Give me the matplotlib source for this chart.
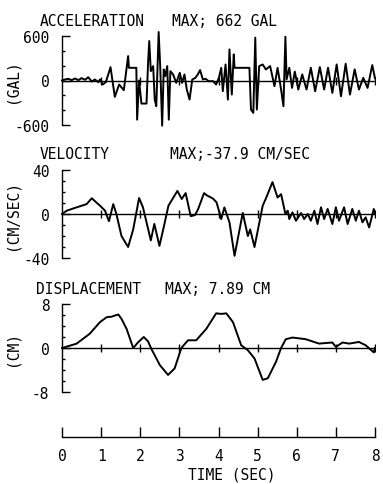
"""
Acceleration, velocity and displacement time histories (old plotter style).
"""

import numpy as np
import matplotlib.pyplot as plt

# acceleration (GAL)
acc_t = [0.00, 0.08, 0.16, 0.25, 0.33, 0.42, 0.50, 0.59, 0.67, 0.76, 0.84, 0.93,
         0.97, 1.04, 1.12, 1.24, 1.35, 1.46, 1.58, 1.69, 1.71, 1.90, 1.92, 1.97,
         2.03, 2.16, 2.20, 2.23, 2.27, 2.33, 2.37, 2.41, 2.47, 2.51, 2.56, 2.60,
         2.64, 2.69, 2.73, 2.77, 2.84, 2.92, 3.01, 3.07, 3.13, 3.19, 3.26, 3.33,
         3.41, 3.47, 3.53, 3.60, 3.67, 3.75, 3.86, 3.94, 4.01, 4.07, 4.11, 4.18,
         4.24, 4.28, 4.34, 4.39, 4.41, 4.79, 4.83, 4.89, 4.94, 4.98, 5.04, 5.13,
         5.21, 5.32, 5.43, 5.51, 5.60, 5.66, 5.71, 5.74, 5.81, 5.88, 5.95, 6.04,
         6.14, 6.25, 6.36, 6.47, 6.59, 6.70, 6.80, 6.91, 7.02, 7.13, 7.25, 7.36,
         7.48, 7.59, 7.70, 7.81, 7.93, 8.00]
acc_v = [0, 14, 23, 5, 27, 5, 32, 9, 45, -14, 14, -23,
         14, -54, -23, 180, -221, -54, -131, 329, 171, 171, -528, 0,
         -311, -311, 239, 532, 126, 194, -257, -347, 654, 194, -609, 149,
         59, 194, -528, 126, 81, -32, 104, -32, 81, -122, -257, 14,
         36, 81, 140, 14, 23, -9, -9, -54, 36, 171, -144, 216,
         -257, 419, -189, 352, 171, 171, -392, -437, 577, -392, 194, 216,
         149, 194, -77, 171, -122, -347, 591, 14, 171, -100, 120, -122,
         82, -122, 172, -145, 181, -122, 172, -168, 217, -213, 226, -190,
         150, -122, 36, -100, 208, 30]

# velocity (CM/SEC)
vel_t = [0.00, 0.12, 0.37, 0.63, 0.76, 0.97, 1.10, 1.20, 1.31, 1.39, 1.52, 1.69,
         1.82, 1.97, 2.07, 2.27, 2.36, 2.49, 2.60, 2.72, 2.95, 3.06, 3.16, 3.29,
         3.40, 3.48, 3.63, 3.70, 3.86, 3.95, 4.07, 4.15, 4.28, 4.41, 4.62, 4.75,
         4.81, 4.92, 5.13, 5.21, 5.38, 5.51, 5.60, 5.71, 5.77, 5.81, 5.89, 5.98,
         6.11, 6.19, 6.28, 6.36, 6.45, 6.53, 6.62, 6.70, 6.79, 6.91, 7.00, 7.08,
         7.21, 7.30, 7.42, 7.51, 7.59, 7.68, 7.76, 7.85, 7.97, 8.00]
vel_v = [0, 3, 6, 9, 14.3, 7.6, 3, -6.6, 9, 0, -20, -30,
         -14, 14.5, 6, -24, -9, -29, -12, 7.5, 21, 13.6, 19, -2,
         -1, 4.5, 19, 17, 14, 10.6, -4.6, 6, -7.6, -38, 1, -20,
         -14, -30, 7.6, 14, 29, 15, 18, 0, 3, -4.6, 1.5, -6.1,
         0.9, -4.6, 0, -6.1, 3, -9.1, 6.1, -4.6, 4.6, -9.1, 6.1, -6.1,
         6.1, -9.1, 4.6, -6.1, 3, -7.6, -3, -12.2, 4.6, 0]

# displacement (CM)
dis_t = [0.00, 0.37, 0.71, 0.97, 1.14, 1.27, 1.35, 1.44, 1.52, 1.65, 1.82, 1.94,
         2.09, 2.20, 2.28, 2.50, 2.71, 2.88, 3.05, 3.22, 3.43, 3.69, 3.94, 4.07,
         4.20, 4.37, 4.58, 4.75, 4.92, 5.13, 5.26, 5.47, 5.60, 5.72, 5.89, 6.23,
         6.57, 6.91, 7.00, 7.17, 7.34, 7.59, 7.76, 7.97, 8.00]
dis_v = [0, 0.78, 2.6, 4.7, 5.6, 5.7, 5.9, 6.1, 5.3, 3.5, 0, 1.0,
         2.0, 1.2, -0.1, -3.1, -4.9, -3.7, 0, 1.4, 1.4, 3.5, 6.3, 6.2,
         6.3, 4.7, 0.5, -0.4, -1.9, -5.8, -5.5, -2.5, 0, 1.6, 1.9, 1.6,
         0.8, 1.0, 0.2, 1.0, 0.8, 1.1, 0.5, -0.8, 0]

seconds = list(range(0, 9))

panels = [
    (acc_t, acc_v, 600, "ACCELERATION", "MAX; 662 GAL", "(GAL)", 37, 126, 21, 40, 172),
    (vel_t, vel_v, 40, "VELOCITY", "MAX;-37.9 CM/SEC", "(CM/SEC)", 171, 259, 155, 40, 170),
    (dis_t, dis_v, 8, "DISPLACEMENT", "MAX; 7.89 CM", "(CM)", 305, 393, 290, 36, 165),
]

W, H = 383, 485
FONT = "DejaVu Sans Mono"
FS = 10.5

fig = plt.figure(figsize=(W / 100, H / 100), dpi=100)

x0, x1 = 62, 375
for t, v, lim, name, maxtxt, unit, ytop, ybot, ytitle, xname, xmax in panels:
    ax = fig.add_axes([x0 / W, 1 - ybot / H, (x1 - x0) / W, (ybot - ytop) / H])
    ax.set_xlim(0, 8)
    ax.set_ylim(-lim, lim)
    for s in ["top", "right", "bottom"]:
        ax.spines[s].set_visible(False)
    ax.spines["left"].set_linewidth(1.0)
    ax.set_xticks([])
    ax.set_yticks([-lim, 0, lim])
    ax.set_yticklabels([str(-lim), "0", str(lim)], fontfamily=FONT, fontsize=FS)
    ax.set_yticks(np.linspace(-lim, lim, 9 if lim != 600 else 7), minor=True)
    ax.tick_params(axis="y", which="major", direction="in", length=6, width=1.0, pad=9)
    ax.tick_params(axis="y", which="minor", direction="in", length=2.5, width=1.0)
    ax.patch.set_visible(False)

    # zero line with second marks
    ax.axhline(0, color="black", lw=1.0)
    ax.plot(seconds[1:], [0] * 8, linestyle="none", marker="|", markersize=6,
            markeredgewidth=1.0, color="black")
    ax.plot(t, v, color="black", lw=1.4, clip_on=False)

    fig.text(xname / W, 1 - ytitle / H, name, fontfamily=FONT, fontsize=FS,
             ha="left", va="center")
    fig.text(xmax / W, 1 - ytitle / H, maxtxt, fontfamily=FONT, fontsize=FS,
             ha="left", va="center")
    fig.text(12 / W, 1 - (ytop + ybot) / 2 / H, unit, fontfamily=FONT, fontsize=FS,
             rotation=90, ha="center", va="center")

# time axis
tax = fig.add_axes([x0 / W, 1 - 438 / H, (x1 - x0) / W, 10 / H])
tax.set_xlim(0, 8)
tax.set_ylim(0, 1)
for s in ["top", "right", "left"]:
    tax.spines[s].set_visible(False)
tax.spines["bottom"].set_linewidth(1.0)
tax.set_yticks([])
tax.set_xticks(seconds)
tax.set_xticklabels([str(s) for s in seconds], fontfamily=FONT, fontsize=FS)
tax.tick_params(axis="x", direction="in", length=7, width=1.0, pad=8)
tax.patch.set_visible(False)

fig.text(232 / W, 1 - 475 / H, "TIME (SEC)", fontfamily=FONT, fontsize=FS,
         ha="center", va="center")

plt.savefig("out.png", dpi=100)
